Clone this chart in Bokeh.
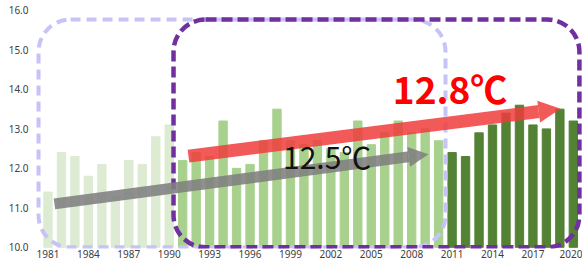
from bokeh.plotting import figure
from bokeh.models import (ColumnDataSource, Range1d, FixedTicker, PrintfTickFormatter,
                          BoxAnnotation, Arrow, NormalHead, Label)
from bokeh.embed import file_html
from bokeh.resources import INLINE

# ---------------- data ----------------
years = list(range(1981, 2021))
temps = [11.4, 12.4, 12.3, 11.8, 12.1, 11.3, 12.2, 12.1, 12.8, 13.1,
         12.2, 12.4, 12.3, 13.2, 12.0, 12.1, 12.7, 13.5, 12.7, 12.6,
         12.7, 12.5, 12.4, 13.2, 12.6, 12.9, 13.2, 12.9, 13.0, 12.7,
         12.4, 12.3, 12.9, 13.1, 13.4, 13.6, 13.1, 13.0, 13.5, 13.2]
period_names = ["1981-1990", "1991-2010", "2011-2020"]
period_first_year = [1981, 1991, 2011]
period_colors = ["#dcebd2", "#a9d18e", "#548235"]
x_tick_years = list(range(1981, 2021, 3))
y_ticks = [10, 11, 12, 13, 14, 15, 16]
old_normal = 12.5   # 1981-2010
new_normal = 12.8   # 1991-2020

def color_for(y):
    c = period_colors[0]
    for fy, col in zip(period_first_year, period_colors):
        if y >= fy:
            c = col
    return c

src = ColumnDataSource(dict(x=years, top=temps, color=[color_for(y) for y in years]))

# ---------------- figure ----------------
p = figure(width=582, height=260, output_backend="svg", toolbar_location=None,
           x_range=Range1d(1980.0, 2020.68), y_range=Range1d(9.97, 16.05),
           min_border_left=34, min_border_right=0, min_border_top=8, min_border_bottom=0)
p.outline_line_color = None
p.background_fill_color = "white"
p.border_fill_color = "white"
p.grid.visible = False

p.vbar(x="x", top="top", bottom=10, width=0.62, color="color", source=src)

# axes
for ax in (p.xaxis[0], p.yaxis[0]):
    ax.axis_line_color = None
    ax.major_tick_line_color = None
    ax.minor_tick_line_color = None
    ax.major_tick_out = 0
    ax.major_tick_in = 0
    ax.minor_tick_out = 0
    ax.minor_tick_in = 0
    ax.major_label_text_font = "Noto Sans"
    ax.major_label_text_font_size = "10px"
    ax.major_label_text_color = "#404040"
p.xaxis.ticker = FixedTicker(ticks=x_tick_years)
p.xaxis.major_label_standoff = 1
p.yaxis.ticker = FixedTicker(ticks=y_ticks)
p.yaxis.formatter = PrintfTickFormatter(format="%.1f")
p.yaxis.major_label_standoff = 6

# dashed rounded boxes
box_top = 15.77
old_box = BoxAnnotation(left=1980.3, right=2010.51, bottom=10.0, top=box_top,
                        fill_alpha=0, line_color="#c6c3f7", line_alpha=1, line_width=4,
                        line_dash="10 6", border_radius=32)
new_box = BoxAnnotation(left=1990.32, right=2020.45, bottom=10.0, top=box_top,
                        fill_alpha=0, line_color="#7030a0", line_alpha=1, line_width=4.5,
                        line_dash="11 5", border_radius=32)
p.add_layout(old_box)
p.add_layout(new_box)

# arrows
gray_arrow = Arrow(x_start=1981.48, y_start=11.10, x_end=2009.25, y_end=12.36,
                   line_color="#808080", line_alpha=0.88, line_width=11,
                   line_cap="butt",
                   end=NormalHead(size=20, fill_color="#808080", fill_alpha=0.88,
                                  line_color=None))
red_arrow = Arrow(x_start=1991.43, y_start=12.31, x_end=2019.05, y_end=13.51,
                  line_color="#f03c3c", line_alpha=0.85, line_width=13,
                  line_cap="butt",
                  end=NormalHead(size=22, fill_color="#f03c3c", fill_alpha=0.85,
                                 line_color=None))
p.add_layout(gray_arrow)
p.add_layout(red_arrow)

# labels
lab_old = Label(x=1998.45, y=12.31, text=f"{old_normal}℃", text_font="Noto Sans CJK JP",
                text_font_size="30px", text_color="#111111", text_baseline="middle",
                text_align="left")
lab_new = Label(x=2006.6, y=14.03, text=f"{new_normal}℃", text_font="Noto Sans CJK JP",
                text_font_size="37px", text_font_style="bold", text_color="#ff0000",
                text_baseline="middle", text_align="left")
p.add_layout(lab_old)
p.add_layout(lab_new)

open("out.html", "w").write(file_html(p, INLINE))
